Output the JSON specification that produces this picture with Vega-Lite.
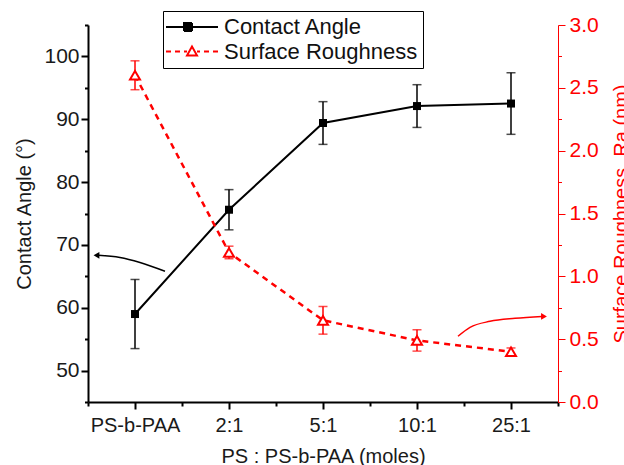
{
  "$schema": "https://vega.github.io/schema/vega-lite/v6.json",
  "width": 470,
  "height": 377,
  "autosize": {"type": "none"},
  "padding": {"left": 88, "top": 25, "right": 66, "bottom": 63},
  "background": "white",
  "config": {
    "view": {"stroke": null},
    "font": "Liberation Sans",
    "axis": {"grid": false, "labelFont": "Liberation Sans", "titleFont": "Liberation Sans", "titleFontWeight": "normal"}
  },
  "datasets": {
    "main": [
      {"ratio": "PS-b-PAA", "idx": 0, "series": "Contact Angle", "value": 59.0, "err": 5.5},
      {"ratio": "2:1", "idx": 1, "series": "Contact Angle", "value": 75.6, "err": 3.2},
      {"ratio": "5:1", "idx": 2, "series": "Contact Angle", "value": 89.4, "err": 3.4},
      {"ratio": "10:1", "idx": 3, "series": "Contact Angle", "value": 92.1, "err": 3.4},
      {"ratio": "25:1", "idx": 4, "series": "Contact Angle", "value": 92.5, "err": 4.9},
      {"ratio": "PS-b-PAA", "idx": 0, "series": "Surface Roughness", "value": 2.6, "err": 0.115},
      {"ratio": "2:1", "idx": 1, "series": "Surface Roughness", "value": 1.19, "err": 0.05},
      {"ratio": "5:1", "idx": 2, "series": "Surface Roughness", "value": 0.65, "err": 0.11},
      {"ratio": "10:1", "idx": 3, "series": "Surface Roughness", "value": 0.49, "err": 0.085},
      {"ratio": "25:1", "idx": 4, "series": "Surface Roughness", "value": 0.4, "err": 0.03}
    ],
    "legendKeys": [
      {"k": "Surface Roughness"},
      {"k": "Contact Angle"}
    ],
    "arrowA": [
      {"idx": 0.319, "value": 65.8},
      {"idx": 0.053, "value": 67.2},
      {"idx": -0.16, "value": 68.0},
      {"idx": -0.39, "value": 68.35}
    ],
    "headA": [{"idx": -0.41, "value": 68.35}],
    "arrowB": [
      {"idx": 3.436, "value": 0.523},
      {"idx": 3.564, "value": 0.594},
      {"idx": 3.777, "value": 0.642},
      {"idx": 4.043, "value": 0.666},
      {"idx": 4.33, "value": 0.681}
    ],
    "headB": [{"idx": 4.351, "value": 0.681}]
  },
  "encoding": {
    "x": {
      "field": "idx",
      "type": "quantitative",
      "scale": {"domain": [-0.5, 4.5], "nice": false, "zero": false},
      "title": "PS : PS-b-PAA (moles)",
      "axis": {
        "values": [-0.5, 0, 0.5, 1, 1.5, 2, 2.5, 3, 3.5, 4, 4.5],
        "labelExpr": "datum.value % 1 === 0 ? ['PS-b-PAA','2:1','5:1','10:1','25:1'][datum.value] : ''",
        "labelOverlap": false,
        "labelFlush": false,
        "tickSize": {"condition": {"test": "datum.value % 1 === 0", "value": 7}, "value": 4},
        "tickColor": "black",
        "tickWidth": 2,
        "domainColor": "black",
        "domainWidth": 2,
        "labelFontSize": 20,
        "labelColor": "#1a1a1a",
        "labelPadding": 6,
        "titleFontSize": 20,
        "titleColor": "#1a1a1a",
        "titleBaseline": "alphabetic",
        "titleY": 60
      }
    }
  },
  "layer": [
    {
      "encoding": {
        "y": {
          "field": "value",
          "type": "quantitative",
          "scale": {"domain": [45, 105], "nice": false, "zero": false},
          "title": "Contact Angle (°)",
          "axis": {
            "orient": "left",
            "values": [45, 50, 55, 60, 65, 70, 75, 80, 85, 90, 95, 100, 105],
            "labelExpr": "datum.value % 10 === 0 ? datum.label : ''",
            "labelOverlap": false,
            "labelFlush": false,
            "tickSize": {"condition": {"test": "datum.value % 10 === 0", "value": 7}, "value": 3.5},
            "tickColor": "black",
            "tickWidth": 2,
            "domainColor": "black",
            "domainWidth": 2,
            "labelFontSize": 21,
            "labelColor": "#1a1a1a",
            "labelPadding": 2,
            "titleFontSize": 20,
            "titleColor": "#1a1a1a",
            "titleAngle": -90,
            "titleBaseline": "alphabetic",
            "titleX": -58
          }
        }
      },
      "layer": [
        {
          "data": {"name": "legendKeys"},
          "mark": {"type": "point", "filled": true, "clip": true},
          "encoding": {
            "x": {"datum": 0},
            "y": {"datum": 300},
            "shape": {
              "field": "k",
              "type": "nominal",
              "scale": {"domain": ["Surface Roughness", "Contact Angle"]},
              "legend": {
                "orient": "none",
                "legendX": 80,
                "legendY": -10,
                "zindex": 1,
                "title": null,
                "padding": 0,
                "fillColor": null,
                "strokeColor": null,
                "symbolSize": 4,
                "symbolStrokeWidth": 0,
                "symbolOpacity": 1,
                "symbolFillColor": "black",
                "symbolStrokeColor": "black",
                "labelFontSize": 2,
                "labelExpr": "''",
                "labelOffset": 0,
                "rowPadding": 0,
                "encode": {
                  "symbols": {
                    "update": {
                      "shape": {"signal": "datum.value === 'Surface Roughness' ? 'M0,0H256V58H0Z' : 'M0,0H1'"},
                      "fill": {"value": "black"},
                      "stroke": {"value": "black"},
                      "strokeWidth": {"value": 0},
                      "opacity": {"value": 1},
                      "fillOpacity": {"value": 1}
                    }
                  }
                }
              }
            }
          }
        },
        {
          "data": {"name": "arrowA"},
          "mark": {"type": "line", "color": "black", "strokeWidth": 1.5, "interpolate": "monotone"}
        },
        {
          "data": {"name": "headA"},
          "mark": {"type": "point", "shape": "triangle-left", "filled": true, "color": "black", "opacity": 1, "size": 45}
        },
        {
          "data": {"name": "main"},
          "transform": [{"filter": "datum.series === 'Contact Angle'"}],
          "mark": {"type": "line", "strokeWidth": 2},
          "encoding": {
            "color": {
              "field": "series",
              "type": "nominal",
              "scale": {"domain": ["Contact Angle", "Surface Roughness"], "range": ["#000000", "#ff0000"]},
              "legend": {
                "orient": "none",
                "legendX": 75,
                "legendY": -14,
                "zindex": 2,
                "title": null,
                "padding": 5,
                "fillColor": "white",
                "strokeColor": "black",
                "symbolSize": 4,
                "labelFontSize": 22,
                "labelFont": "Liberation Sans",
                "labelColor": "#111111",
                "labelOffset": 34,
                "labelLimit": 400,
                "rowPadding": 2.5,
                "encode": {
                  "symbols": {
                    "update": {
                      "shape": {"signal": "datum.value === 'Contact Angle' ? 'M-13,0H39M5,-4H13V4H5Z' : 'M-13,0H-8M-4,0H1M5,0H8M18,0H21M25,0H30M34,0H39M13,-5L18,4H8Z'"},
                      "fill": {"signal": "datum.value === 'Contact Angle' ? 'black' : 'white'"},
                      "stroke": {"signal": "datum.value === 'Contact Angle' ? 'black' : '#ff0000'"},
                      "strokeDash": {"value": [1, 0]},
                      "strokeWidth": {"value": 2},
                      "opacity": {"value": 1}
                    }
                  }
                }
              }
            }
          }
        },
        {
          "data": {"name": "main"},
          "transform": [{"filter": "datum.series === 'Contact Angle'"}],
          "mark": {"type": "errorbar", "ticks": {"size": 9, "thickness": 1.5, "color": "black"}, "rule": {"strokeWidth": 1.5, "color": "black"}},
          "encoding": {"yError": {"field": "err"}}
        },
        {
          "data": {"name": "main"},
          "transform": [{"filter": "datum.series === 'Contact Angle'"}],
          "mark": {"type": "point", "shape": "square", "filled": true, "color": "black", "opacity": 1, "size": 64}
        }
      ]
    },
    {
      "encoding": {
        "y": {
          "field": "value",
          "type": "quantitative",
          "scale": {"domain": [0, 3], "nice": false, "zero": false},
          "title": "Surface Roughness, Ra (nm)",
          "axis": {
            "orient": "right",
            "values": [0, 0.25, 0.5, 0.75, 1, 1.25, 1.5, 1.75, 2, 2.25, 2.5, 2.75, 3],
            "labelExpr": "(datum.value * 2) % 1 === 0 ? format(datum.value, '.1f') : ''",
            "labelOverlap": false,
            "labelFlush": false,
            "tickSize": {"condition": {"test": "(datum.value * 2) % 1 === 0", "value": 7}, "value": 3.5},
            "tickColor": "#ff0000",
            "tickWidth": 1,
            "domainColor": "#ff0000",
            "domainWidth": 1,
            "labelFontSize": 21,
            "labelColor": "#ff0000",
            "labelPadding": 4,
            "titleFontSize": 20,
            "titleColor": "#ff0000",
            "titleAngle": -90,
            "titleBaseline": "alphabetic",
            "titleX": 69
          }
        }
      },
      "layer": [
        {
          "data": {"name": "arrowB"},
          "mark": {"type": "line", "color": "#ff0000", "strokeWidth": 1.5, "interpolate": "monotone"}
        },
        {
          "data": {"name": "headB"},
          "mark": {"type": "point", "shape": "triangle-right", "filled": true, "color": "#ff0000", "opacity": 1, "size": 45}
        },
        {
          "data": {"name": "main"},
          "transform": [{"filter": "datum.series === 'Surface Roughness'"}],
          "mark": {"type": "line", "strokeWidth": 2.5, "strokeDash": [6, 5]},
          "encoding": {
            "color": {"field": "series", "type": "nominal"}
          }
        },
        {
          "data": {"name": "main"},
          "transform": [{"filter": "datum.series === 'Surface Roughness'"}],
          "mark": {"type": "errorbar", "ticks": {"size": 9, "thickness": 1.5, "color": "#ff0000"}, "rule": {"strokeWidth": 1.5, "color": "#ff0000"}},
          "encoding": {"yError": {"field": "err"}}
        },
        {
          "data": {"name": "main"},
          "transform": [{"filter": "datum.series === 'Surface Roughness'"}],
          "mark": {"type": "point", "shape": "triangle-up", "filled": true, "fill": "white", "stroke": "#ff0000", "strokeWidth": 2, "opacity": 1, "size": 100}
        }
      ]
    }
  ],
  "resolve": {"scale": {"y": "independent"}}
}
